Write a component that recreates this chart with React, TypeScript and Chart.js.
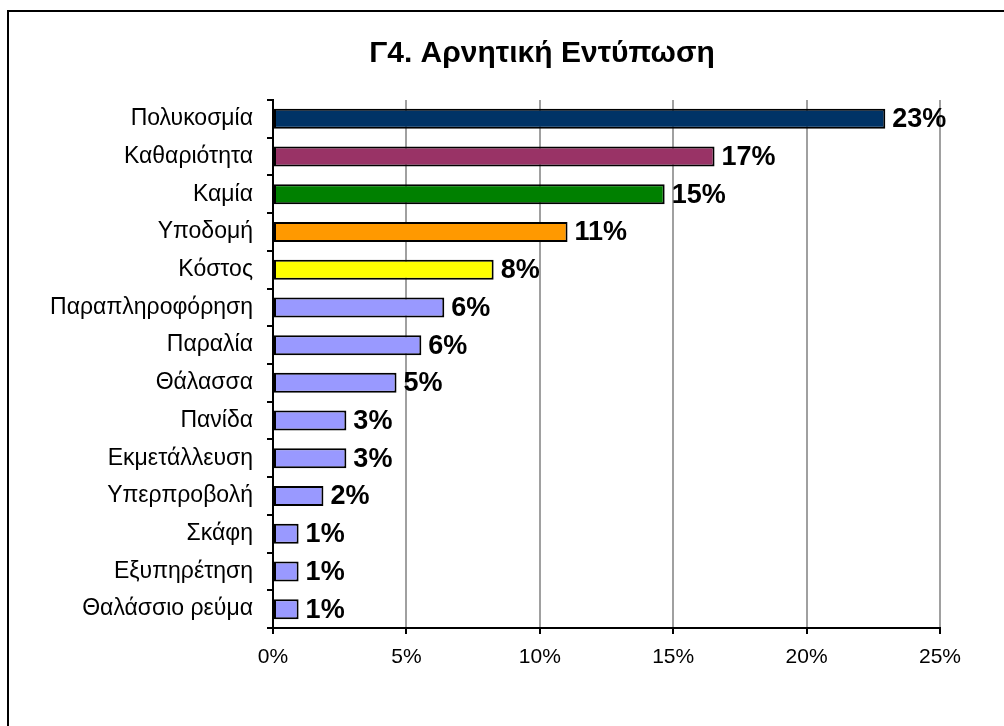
import React, { useEffect, useRef } from "react";
import { Chart, registerables } from "chart.js";

Chart.register(...registerables);

const categories = [
  "Πολυκοσμία",
  "Καθαριότητα",
  "Καμία",
  "Υποδομή",
  "Κόστος",
  "Παραπληροφόρηση",
  "Παραλία",
  "Θάλασσα",
  "Πανίδα",
  "Εκμετάλλευση",
  "Υπερπροβολή",
  "Σκάφη",
  "Εξυπηρέτηση",
  "Θαλάσσιο ρεύμα",
];

const values = [22.95, 16.55, 14.68, 11.04, 8.27, 6.42, 5.56, 4.63, 2.75, 2.75, 1.89, 0.96, 0.96, 0.96];

const barColors = [
  "#003366",
  "#993366",
  "#008000",
  "#FF9900",
  "#FFFF00",
  "#9999FF",
  "#9999FF",
  "#9999FF",
  "#9999FF",
  "#9999FF",
  "#9999FF",
  "#9999FF",
  "#9999FF",
  "#9999FF",
];

const xTickValues = [0, 5, 10, 15, 20, 25];
const titleText = "Γ4. Αρνητική Εντύπωση";

const FONT = "'Liberation Sans', Arial, sans-serif";

const framePlugin = {
  id: "frame",
  beforeDraw(chart: any) {
    const ctx = chart.ctx;
    ctx.save();
    ctx.fillStyle = "#ffffff";
    ctx.fillRect(0, 0, chart.width, chart.height);
    ctx.fillStyle = "#000000";
    ctx.fillRect(7, 10, 2, chart.height - 10);
    ctx.fillRect(7, 10, chart.width - 7, 2);
    ctx.restore();
  },
};

const titlePlugin = {
  id: "customTitle",
  afterDraw(chart: any) {
    const ctx = chart.ctx;
    ctx.save();
    ctx.font = `bold 30px ${FONT}`;
    ctx.fillStyle = "#000000";
    ctx.textAlign = "center";
    ctx.textBaseline = "middle";
    ctx.fillText(titleText, 542, 54);
    ctx.restore();
  },
};

const valueLabelPlugin = {
  id: "valueLabels",
  afterDatasetsDraw(chart: any) {
    const ctx = chart.ctx;
    const meta = chart.getDatasetMeta(0);
    ctx.save();
    ctx.font = `bold 27px ${FONT}`;
    ctx.fillStyle = "#000000";
    ctx.textAlign = "left";
    ctx.textBaseline = "middle";
    meta.data.forEach((bar: any, i: number) => {
      const v = values[i];
      ctx.fillText(`${Math.round(v)}%`, bar.x + 7, bar.y + 1);
    });
    ctx.restore();
  },
};

export default function App() {
  const canvasRef = useRef<HTMLCanvasElement | null>(null);

  useEffect(() => {
    if (!canvasRef.current) return;
    const chart = new Chart(canvasRef.current, {
      type: "bar",
      data: {
        labels: categories,
        datasets: [
          {
            data: values,
            backgroundColor: barColors,
            borderColor: "#000000",
            borderWidth: 2,
            borderSkipped: false,
            barPercentage: 0.53,
            categoryPercentage: 1.0,
          },
        ],
      },
      options: {
        indexAxis: "y",
        responsive: false,
        animation: false,
        devicePixelRatio: 1,
        layout: { padding: { top: 100, right: 64, bottom: 0, left: 0 } },
        plugins: {
          legend: { display: false },
          title: { display: false },
          tooltip: { enabled: false },
        },
        scales: {
          x: {
            type: "linear",
            min: 0,
            max: 25,
            afterBuildTicks(scale: any) {
              scale.ticks = xTickValues.map((v) => ({ value: v }));
            },
            afterFit(scale: any) {
              scale.height = 98;
            },
            ticks: {
              callback: (v: any) => `${v}%`,
              color: "#000000",
              font: { family: FONT, size: 21 },
              padding: 11,
              maxRotation: 0,
            },
            grid: {
              color: "#a0a0a0",
              lineWidth: 2,
              tickColor: "#000000",
              tickLength: 6,
            },
            border: { color: "#000000", width: 2 },
          },
          y: {
            type: "category",
            afterFit(scale: any) {
              scale.width = 273;
            },
            ticks: {
              color: "#000000",
              font: { family: FONT, size: 23 },
              padding: 14,
            },
            grid: {
              display: true,
              drawOnChartArea: false,
              offset: true,
              tickColor: "#000000",
              tickLength: 6,
              lineWidth: 2,
            },
            border: { color: "#000000", width: 2 },
          },
        },
      },
      plugins: [framePlugin, titlePlugin, valueLabelPlugin],
    });
    return () => chart.destroy();
  }, []);

  return (
    <canvas
      ref={canvasRef}
      width={1004}
      height={726}
      style={{ position: "fixed", left: 0, top: 0, width: 1004, height: 726, display: "block" }}
    />
  );
}
